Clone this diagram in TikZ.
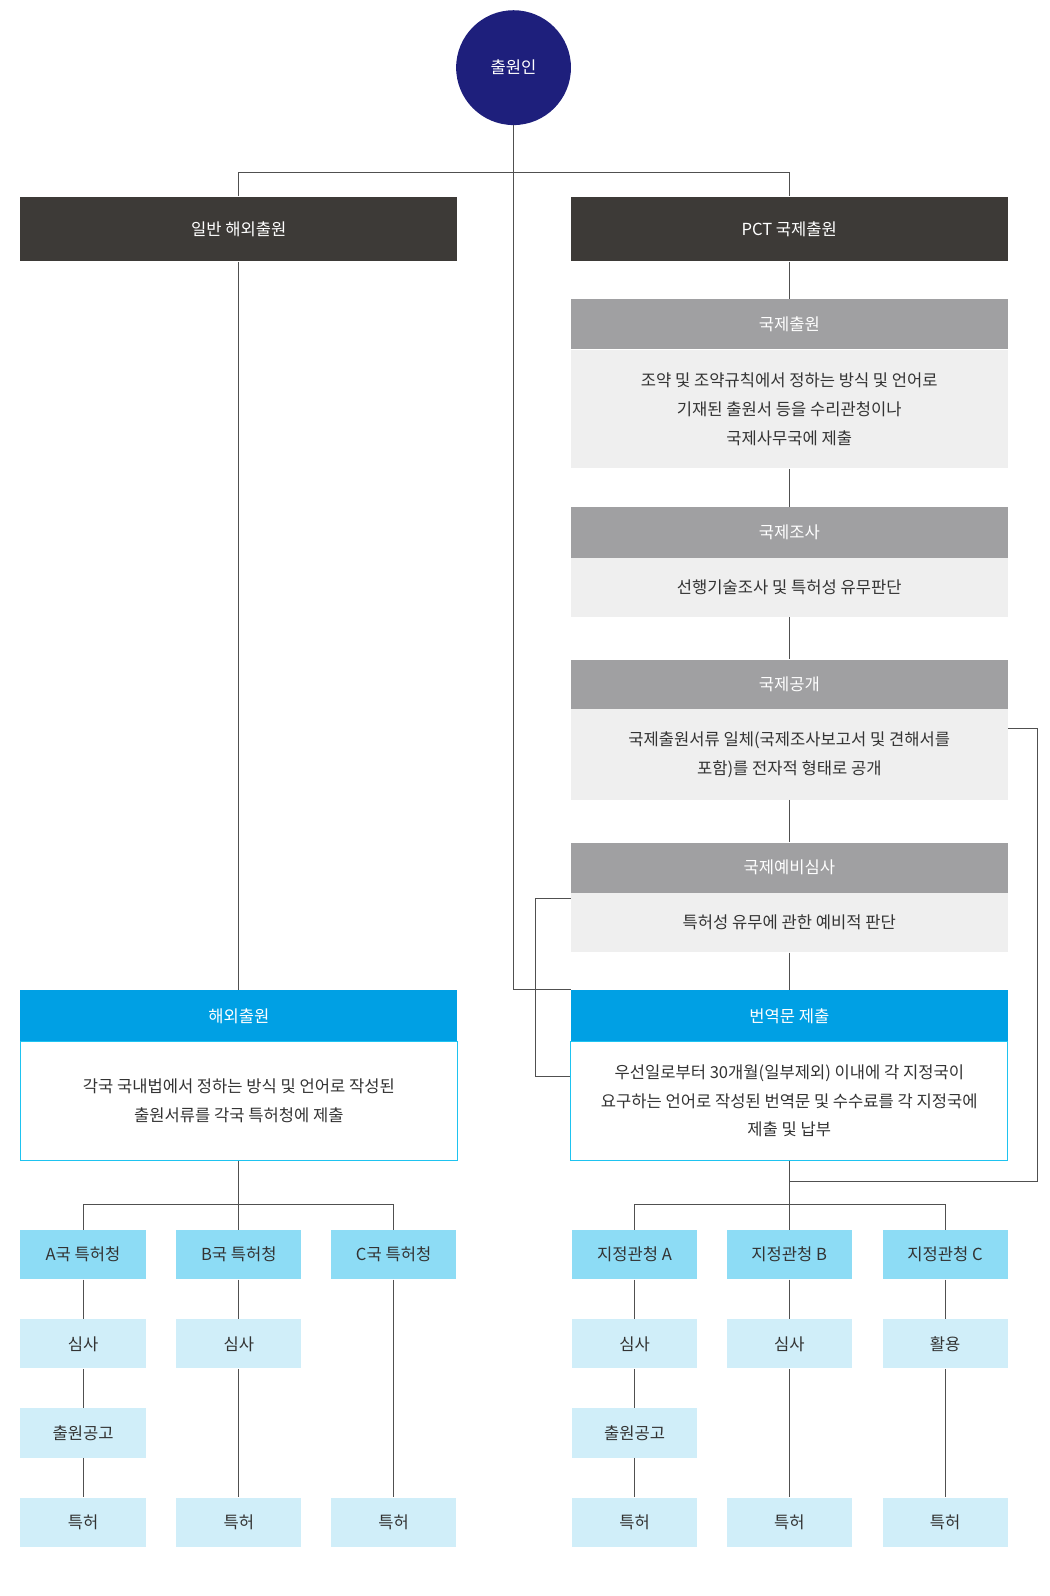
\documentclass[tikz,border=0pt]{standalone}
\usepackage{fontspec}
\setmainfont{Noto Sans CJK KR}
\usetikzlibrary{positioning, calc}
\definecolor{navy}{HTML}{1E1F7C}
\definecolor{darkbox}{HTML}{3D3A37}
\definecolor{graybox}{HTML}{A0A0A2}
\definecolor{lightbox}{HTML}{EFEFEF}
\definecolor{bluebox}{HTML}{00A0E4}
\definecolor{cyanline}{HTML}{1EC3F0}
\definecolor{officebox}{HTML}{8DDCF5}
\definecolor{stepfill}{HTML}{D0EEF9}
\definecolor{linegray}{HTML}{505050}
\begin{document}
\begin{tikzpicture}[x=0.025cm, y=-0.025cm, font=\fontsize{11.5}{20}\selectfont]

		% Stile
		\tikzset{
			wide/.style={minimum width=10.65cm, inner sep=0pt, align=center},
			topbox/.style={wide, fill=darkbox, text=white, minimum height=1.58cm},
			head/.style={wide, fill=graybox, text=white, minimum height=1.22cm},
			bluehead/.style={wide, fill=bluebox, text=white, minimum height=1.25cm},
			body/.style={wide, fill=lightbox, text=black!80},
			small/.style={minimum width=3.05cm, minimum height=1.2cm, inner sep=0pt, text=black!80},
			office/.style={small, fill=officebox},
			stepbox/.style={small, fill=stepfill},
			link/.style={linegray, line width=0.6pt}
		}
		\useasboundingbox (0,0) rectangle (1024,1557);

		% Anmelder
		\node (app) [circle, fill=navy, text=white, minimum size=2.8cm] at (501,66) {출원인};
		\node (gen) [topbox] at (233,223.5) {일반 해외출원};
		\node (pct) [topbox] at (770,223.5) {PCT 국제출원};

		% PCT Schritte
		\node (h1) [head] at (770,316.5) {국제출원};
		\node (b1) [body, minimum height=2.9cm] at (770,399) {조약 및 조약규칙에서 정하는 방식 및 언어로\\기재된 출원서 등을 수리관청이나\\국제사무국에 제출};
		\node (h2) [head] at (770,519.5) {국제조사};
		\node (b2) [body, minimum height=1.45cm] at (770,573) {선행기술조사 및 특허성 유무판단};
		\node (h3) [head] at (770,668) {국제공개};
		\node (b3) [body, minimum height=2.2cm] at (770,736) {국제출원서류 일체(국제조사보고서 및 견해서를\\포함)를 전자적 형태로 공개};
		\node (h4) [head] at (770,846.5) {국제예비심사};
		\node (b4) [body, minimum height=1.45cm] at (770,900) {특허성 유무에 관한 예비적 판단};
		\node (h5) [bluehead] at (770,991) {번역문 제출};
		\node (b5) [wide, draw=cyanline, line width=0.8pt, minimum height=2.9cm, text=black!80] at (770,1074) {우선일로부터 30개월(일부제외) 이내에 각 지정국이\\요구하는 언어로 작성된 번역문 및 수수료를 각 지정국에\\제출 및 납부};
		\node (h6) [bluehead] at (233,991) {해외출원};
		\node (b6) [wide, draw=cyanline, line width=0.8pt, minimum height=2.9cm, text=black!80] at (233,1074) {각국 국내법에서 정하는 방식 및 언어로 작성된\\출원서류를 각국 특허청에 제출};

		% Ämter
		\node (a1) [office] at (81,1224) {A국 특허청};
		\node (a2) [office] at (233,1224) {B국 특허청};
		\node (a3) [office] at (384,1224) {C국 특허청};
		\node (d1) [office] at (619,1224) {지정관청 A};
		\node (d2) [office] at (770,1224) {지정관청 B};
		\node (d3) [office] at (922,1224) {지정관청 C};
		\node (a1s) [stepbox] at (81,1311) {심사};
		\node (a2s) [stepbox] at (233,1311) {심사};
		\node (d1s) [stepbox] at (619,1311) {심사};
		\node (d2s) [stepbox] at (770,1311) {심사};
		\node (d3s) [stepbox] at (922,1311) {활용};
		\node (a1p) [stepbox] at (81,1398) {출원공고};
		\node (d1p) [stepbox] at (619,1398) {출원공고};
		\node (a1t) [stepbox] at (81,1485) {특허};
		\node (a2t) [stepbox] at (233,1485) {특허};
		\node (a3t) [stepbox] at (384,1485) {특허};
		\node (d1t) [stepbox] at (619,1485) {특허};
		\node (d2t) [stepbox] at (770,1485) {특허};
		\node (d3t) [stepbox] at (922,1485) {특허};

		% Verbindungen
		\coordinate (split) at (501,168);
		\draw[link] (app.south) -- (split);
		\draw[link] (gen.north) |- (split) -| (pct.north);
		\draw[link] (split) |- (h5.north west);
		\draw[link] (gen.south) -- (h6.north);
		\draw[link] (pct.south) -- (h1.north);
		\draw[link] (b1.south) -- (h2.north);
		\draw[link] (b2.south) -- (h3.north);
		\draw[link] (b3.south) -- (h4.north);
		\draw[link] (b4.south) -- (h5.north);
		\draw[link] ($(b4.west)+(0,-24)$) -- ++(-34,0) |- ($(b5.west)+(0,-24)$);
		\draw[link] ($(b3.east)+(0,-25)$) -- (1012,711) |- (770,1153);
		\draw[link] (b5.south) -- (770,1175);
		\draw[link] (d1.north) |- (770,1175) -| (d3.north);
		\draw[link] (770,1175) -- (d2.north);
		\draw[link] (b6.south) -- (233,1175);
		\draw[link] (a1.north) |- (233,1175) -| (a3.north);
		\draw[link] (233,1175) -- (a2.north);
		\draw[link] (a1) -- (a1s) -- (a1p) -- (a1t);
		\draw[link] (a2) -- (a2s) -- (a2t);
		\draw[link] (a3) -- (a3t);
		\draw[link] (d1) -- (d1s) -- (d1p) -- (d1t);
		\draw[link] (d2) -- (d2s) -- (d2t);
		\draw[link] (d3) -- (d3s) -- (d3t);

	\end{tikzpicture}
\end{document}
